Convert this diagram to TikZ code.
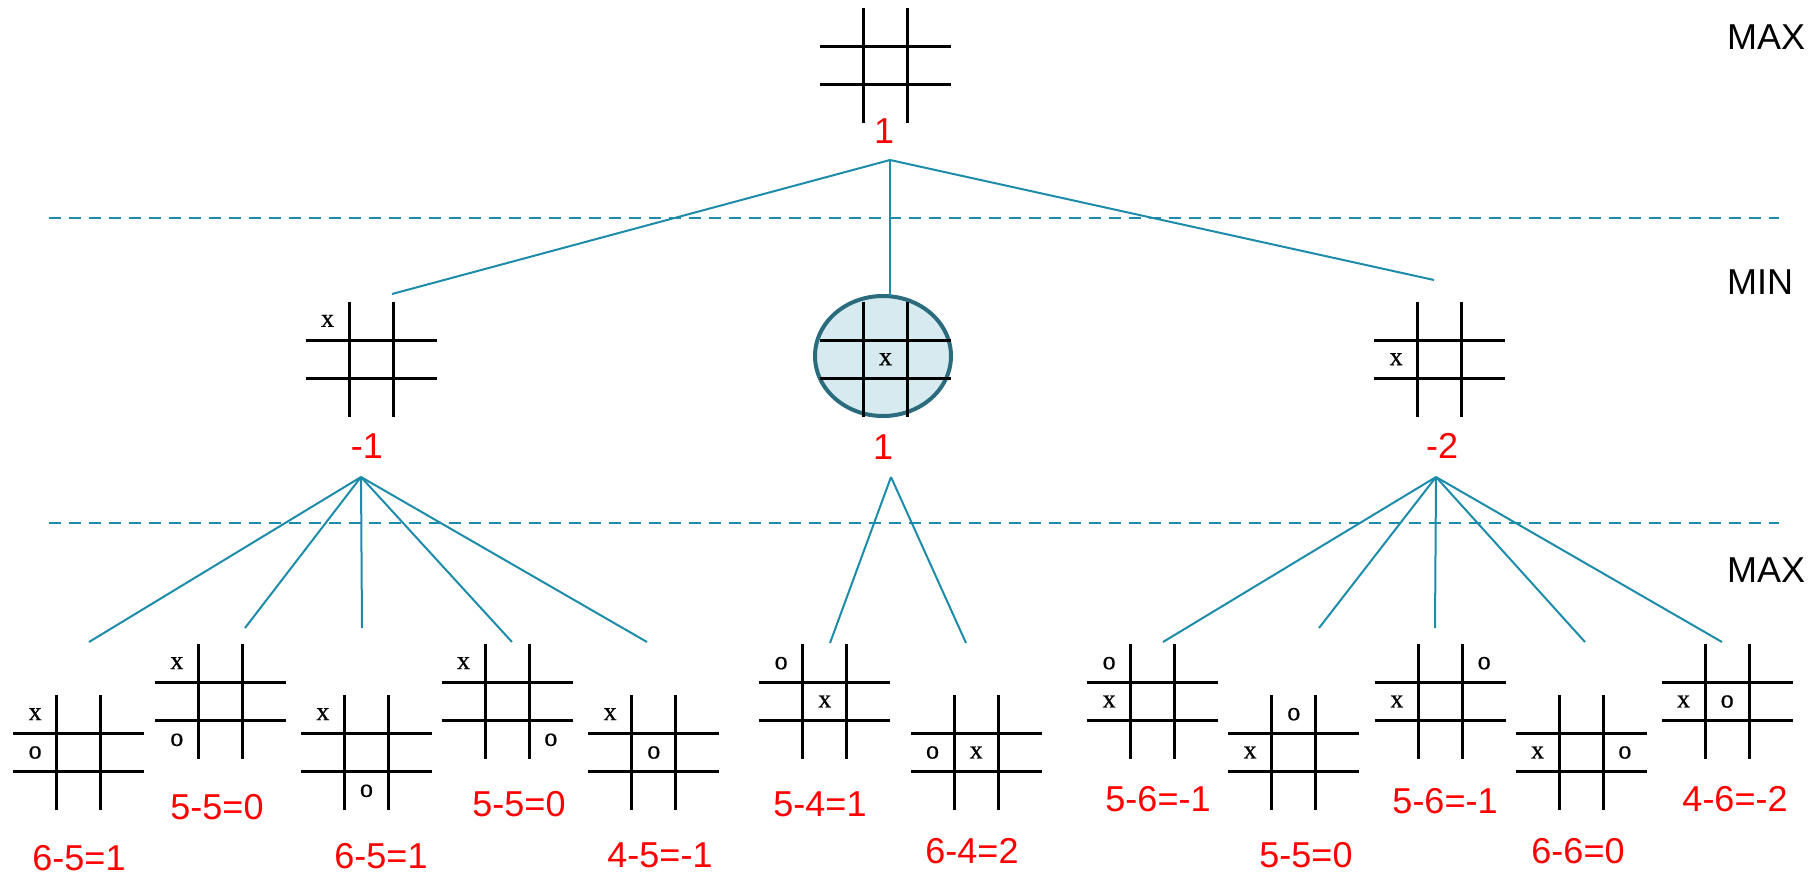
\documentclass[tikz,border=0pt]{standalone}
\usepackage{fontspec}
\usetikzlibrary{shapes.geometric}
\setmainfont{Liberation Sans}
\newfontfamily\marksfont[FakeBold=0.6]{Liberation Serif}
\definecolor{edgeteal}{RGB}{28,140,170}
\definecolor{ellborder}{RGB}{42,108,126}
\definecolor{ellfill}{RGB}{214,234,240}
\tikzset{
  gridline/.style={line width=3pt, black},
  edge/.style={draw=edgeteal, line width=2pt},
  sepline/.style={draw=edgeteal, line width=2pt, dash pattern=on 12pt off 8pt},
  val/.style={text=red, font=\fontsize{36}{40}\selectfont, inner sep=0pt},
  lvl/.style={font=\fontsize{36}{40}\selectfont, inner sep=0pt, anchor=west},
  xo/.style={font=\marksfont\fontsize{26}{28}\selectfont, inner sep=0pt},
  boardbox/.style={minimum width=131pt, minimum height=115pt, inner sep=0pt, outer sep=0pt},
}
% board: name, x0, y0 (top-left corner)
\newcommand\tttboard[3]{%
  \node[boardbox] (#1) at ({#2+65.5},{#3+57.5}) {};
  \draw[gridline] ({#2+43.67},#3) -- ({#2+43.67},{#3+115});
  \draw[gridline] ({#2+87.67},#3) -- ({#2+87.67},{#3+115});
  \draw[gridline] (#2,{#3+38.33}) -- ({#2+131},{#3+38.33});
  \draw[gridline] (#2,{#3+76.67}) -- ({#2+131},{#3+76.67});
}
% mark: name, x0, y0, col, row, text
\newcommand\putmark[6]{%
  \node[xo] (#1) at ({#2+21.83+43.67*#4},{#3+19.17+38.33*#5}) {#6};
}
\begin{document}
\begin{tikzpicture}[x=1pt, y=-1pt]
\useasboundingbox (0,0) rectangle (1817,873);

% separators
\coordinate (s1a) at (49,218);
\coordinate (s1b) at (1779,218);
\coordinate (s2a) at (49,523);
\coordinate (s2b) at (1779,523);
\draw[sepline] (s1a) -- (s1b);
\draw[sepline] (s2a) -- (s2b);

% level labels
\node[lvl] (lv1) at (1727,37) {MAX};
\node[lvl] (lv2) at (1727,282) {MIN};
\node[lvl] (lv3) at (1727,570) {MAX};

% ellipse behind center MIN board
\node[draw=ellborder, fill=ellfill, line width=4pt, ellipse, minimum width=136pt, minimum height=120pt, inner sep=0pt] (ell) at (883,356) {};

% boards
\tttboard{root}{820}{8}
\tttboard{mL}{305.7}{301.7}
\tttboard{mC}{820}{301.7}
\tttboard{mR}{1374.3}{301.7}
\tttboard{bA}{13.3}{695}
\tttboard{bB}{155}{644}
\tttboard{bC}{301}{695}
\tttboard{bD}{441.7}{644}
\tttboard{bE}{588.3}{695}
\tttboard{bF}{759.3}{644}
\tttboard{bG}{910.7}{695}
\tttboard{bH}{1087.3}{644}
\tttboard{bI}{1228.3}{695}
\tttboard{bJ}{1375}{644}
\tttboard{bK}{1515.7}{695}
\tttboard{bL}{1661.7}{644}

% marks
\putmark{mLx}{305.7}{301.7}{0}{0}{x}
\putmark{mCx}{820}{301.7}{1}{1}{x}
\putmark{mRx}{1374.3}{301.7}{0}{1}{x}
\putmark{bAx}{13.3}{695}{0}{0}{x}
\putmark{bAo}{13.3}{695}{0}{1}{o}
\putmark{bBx}{155}{644}{0}{0}{x}
\putmark{bBo}{155}{644}{0}{2}{o}
\putmark{bCx}{301}{695}{0}{0}{x}
\putmark{bCo}{301}{695}{1}{2}{o}
\putmark{bDx}{441.7}{644}{0}{0}{x}
\putmark{bDo}{441.7}{644}{2}{2}{o}
\putmark{bEx}{588.3}{695}{0}{0}{x}
\putmark{bEo}{588.3}{695}{1}{1}{o}
\putmark{bFo}{759.3}{644}{0}{0}{o}
\putmark{bFx}{759.3}{644}{1}{1}{x}
\putmark{bGo}{910.7}{695}{0}{1}{o}
\putmark{bGx}{910.7}{695}{1}{1}{x}
\putmark{bHo}{1087.3}{644}{0}{0}{o}
\putmark{bHx}{1087.3}{644}{0}{1}{x}
\putmark{bIo}{1228.3}{695}{1}{0}{o}
\putmark{bIx}{1228.3}{695}{0}{1}{x}
\putmark{bJo}{1375}{644}{2}{0}{o}
\putmark{bJx}{1375}{644}{0}{1}{x}
\putmark{bKx}{1515.7}{695}{0}{1}{x}
\putmark{bKo}{1515.7}{695}{2}{1}{o}
\putmark{bLx}{1661.7}{644}{0}{1}{x}
\putmark{bLo}{1661.7}{644}{1}{1}{o}

% values
\node[val] (vroot) at (884,131) {1};
\node[val] (vmL) at (367,446) {-1};
\node[val] (vmC) at (883,447) {1};
\node[val] (vmR) at (1442,446) {-2};
\node[val] (vA) at (79,858) {6-5=1};
\node[val] (vB) at (217,807) {5-5=0};
\node[val] (vC) at (381,856) {6-5=1};
\node[val] (vD) at (519,804) {5-5=0};
\node[val] (vE) at (660,855) {4-5=-1};
\node[val] (vF) at (820,804) {5-4=1};
\node[val] (vG) at (972,851) {6-4=2};
\node[val] (vH) at (1158,799) {5-6=-1};
\node[val] (vI) at (1306,855) {5-5=0};
\node[val] (vJ) at (1445,801) {5-6=-1};
\node[val] (vK) at (1578,851) {6-6=0};
\node[val] (vL) at (1735,799) {4-6=-2};

% tree connectors
\coordinate (apT) at (890,160);
\coordinate (apL) at (361,477);
\coordinate (apC) at (891,477);
\coordinate (apR) at (1436,477);
\coordinate (eL) at (392,294);
\coordinate (eC) at (890,296);
\coordinate (eR) at (1434,280);
\draw[edge] (apT) -- (eL);
\draw[edge] (apT) -- (eC);
\draw[edge] (apT) -- (eR);

\coordinate (eA) at (89,642);
\coordinate (eB) at (245,628);
\coordinate (eCc) at (362,628);
\coordinate (eD) at (512,642);
\coordinate (eE) at (647,642);
\draw[edge] (apL) -- (eA);
\draw[edge] (apL) -- (eB);
\draw[edge] (apL) -- (eCc);
\draw[edge] (apL) -- (eD);
\draw[edge] (apL) -- (eE);

\coordinate (eF) at (830,643);
\coordinate (eG) at (966,643);
\draw[edge] (apC) -- (eF);
\draw[edge] (apC) -- (eG);

\coordinate (eH) at (1163,642);
\coordinate (eI) at (1319,628);
\coordinate (eJ) at (1435,628);
\coordinate (eK) at (1585,642);
\coordinate (eLL) at (1722,642);
\draw[edge] (apR) -- (eH);
\draw[edge] (apR) -- (eI);
\draw[edge] (apR) -- (eJ);
\draw[edge] (apR) -- (eK);
\draw[edge] (apR) -- (eLL);
\end{tikzpicture}
\end{document}
